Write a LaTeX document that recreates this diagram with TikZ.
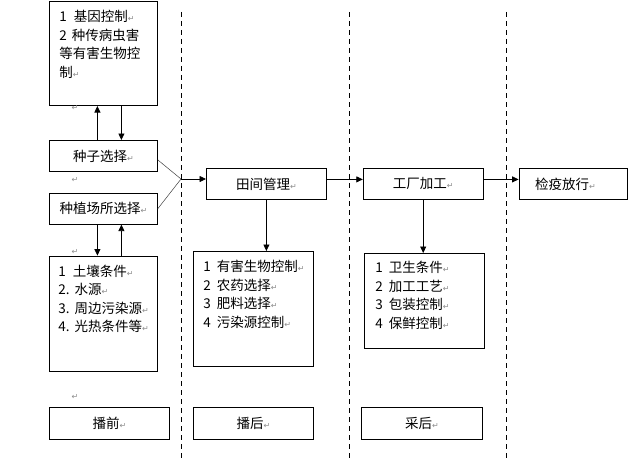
\documentclass[tikz,border=0pt]{standalone}
\usepackage{fontspec}
\usepackage{tikz}
\usetikzlibrary{arrows.meta,positioning}
\newfontfamily\cjk{Noto Sans CJK SC}
\newfontfamily\markfont{DejaVu Sans}
\newcommand{\retmark}{{\markfont\fontsize{8}{8}\selectfont\color{black!45}↵}}
\newcommand{\gap}[1]{\nobreak\hspace{#1}\nobreak}
\newcommand{\listbody}[3]{\parbox[t][#2][t]{#1}{#3}}
\tikzset{framebox/.style={
    % The shape:
    rectangle,
    % The size:
    minimum height=31pt,
    minimum width=108pt,
    inner sep=0pt,
    % The border:
    line width=0.8pt,
    draw=black,
    % Font
    font=\cjk\fontsize{13.5}{18.5}\selectfont
    },
    listbox/.style={
    framebox,
    anchor=north west,
    align=left,
    minimum height=0pt,
    minimum width=0pt,
    },
    flow/.style={
    -{Triangle[length=6.5pt,width=6pt]},
    line width=0.8pt,
    },
    feed/.style={
    line width=0.5pt,
    draw=black!75,
    },
    divider/.style={
    dash pattern=on 5pt off 4pt,
    line width=0.8pt,
    },
    retpos/.style={inner sep=0pt},
}

\begin{document}
\begin{tikzpicture}[x=1pt,y=-1pt,node distance=21pt]
    \useasboundingbox (0,0) rectangle (637,460);

    % before sowing
    \node (seed)  [framebox,anchor=north west] at (49,140) {种子选择\retmark};
    \node (site)  [framebox,below=of seed]     {种植场所选择\retmark};
    \node (gene)  [listbox,inner xsep=10pt,inner ysep=9pt,above=34pt of seed]
        {\listbody{88pt}{86pt}{1\gap{7pt}基因控制\retmark\\2\gap{5pt}种传病虫害\\等有害生物控\\制\retmark}};
    \node (soil)  [listbox,inner xsep=9pt,inner ysep=9pt,below=31pt of site]
        {\listbody{90pt}{97pt}{1\gap{7pt}土壤条件\retmark\\2.\gap{5pt}水源\retmark\\3.\gap{5pt}周边污染源\retmark\\4.\gap{5pt}光热条件等\retmark}};
    \node (pre)   [framebox,anchor=north west,minimum width=120pt,minimum height=32pt] at (49,407) {播前\retmark};

    % after sowing, after harvest
    \node (field)    [framebox,anchor=north west,minimum width=120pt] at (206,168) {田间管理\retmark};
    \node (factory)  [framebox,minimum width=120pt,right=36pt of field] {工厂加工\retmark};
    \node (check)    [framebox,text width=76pt,align=left,inner xsep=10pt,right=35pt of factory] {检疫放行\retmark};
    \node (fieldlist) [listbox,inner xsep=10pt,inner ysep=9pt] at (193,251)
        {\listbody{100pt}{97pt}{1\gap{6pt}有害生物控制\retmark\\2\gap{6pt}农药选择\retmark\\3\gap{6pt}肥料选择\retmark\\4\gap{6pt}污染源控制\retmark}};
    \node (factlist)  [listbox,inner xsep=11pt,inner ysep=8pt] at (364,253)
        {\listbody{98pt}{79pt}{1\gap{6pt}卫生条件\retmark\\2\gap{6pt}加工工艺\retmark\\3\gap{6pt}包装控制\retmark\\4\gap{6pt}保鲜控制\retmark}};
    \node (post)     [framebox,anchor=north west,minimum width=120pt,minimum height=32pt] at (193,407) {播后\retmark};
    \node (harvest)  [framebox,anchor=north west,minimum width=121pt,minimum height=32pt] at (361,407) {采后\retmark};

    % stray paragraph marks
    \node (ret1) [retpos] at (75,108) {\retmark};
    \node (ret2) [retpos] at (75,180) {\retmark};
    \node (ret3) [retpos] at (75,252) {\retmark};
    \node (ret4) [retpos] at (75,397) {\retmark};

    % stage dividers
    \draw[divider] (181,12) -- (181,458);
    \draw[divider] (349.5,12) -- (349.5,458);
    \draw[divider] (506,12) -- (506,458);

    \coordinate (join) at (181,179);
    \draw[feed] ([yshift=-4pt]seed.east) -- (join);
    \draw[feed] (site.east) -- (join);
    \draw[flow] (join) -- (join -| field.west);
    \draw[flow] ([yshift=4.5pt]field.east) -- ([yshift=4.5pt]factory.west);
    \draw[flow] ([yshift=4.5pt]factory.east) -- ([yshift=4.5pt]check.west);
    \draw[flow] (field.south) -- (field.south |- fieldlist.north);
    \draw[flow] (factory.south) -- (factory.south |- factlist.north);

    \draw[flow] ([xshift=-6pt]seed.north) -- ([xshift=-6pt]gene.south);
    \draw[flow] ([xshift=18pt]gene.south) -- ([xshift=18pt]seed.north);
    \draw[flow] ([xshift=-6pt]site.south) -- ([xshift=-6pt]soil.north);
    \draw[flow] ([xshift=18pt]soil.north) -- ([xshift=18pt]site.south);
\end{tikzpicture}
\end{document}
